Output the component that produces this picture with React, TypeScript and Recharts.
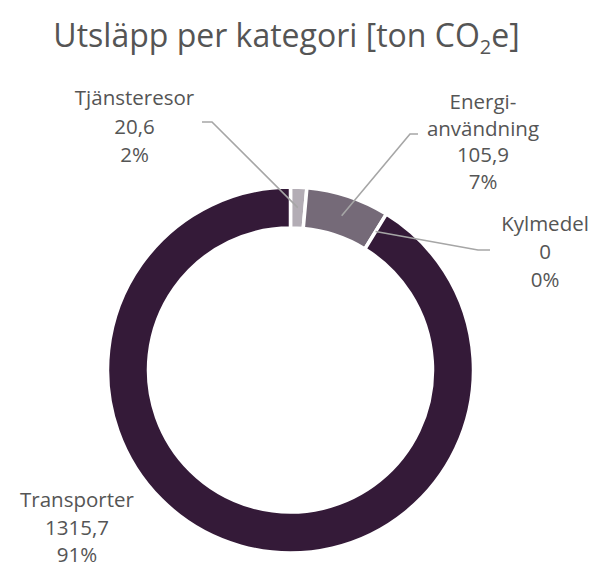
import { PieChart, Pie, Cell } from 'recharts'

const categories = ['Tjänsteresor', 'Energianvändning', 'Kylmedel', 'Transporter']
const labelLines = [['Tjänsteresor'], ['Energi-', 'användning'], ['Kylmedel'], ['Transporter']]
const values = [20.6, 105.9, 0, 1315.7]
const percentLabels = ['2%', '7%', '0%', '91%']
const colors = ['#b3adb5', '#756a78', '#341a38', '#341a38']

const data = categories.map((name, i) => ({ name, value: values[i] }))

// label placement relative to the pie centre (text centre x, first baseline y, line step)
const labelLayout = [
  { dx: -156, dy: -265, step: 28.5, leader: [[-78.5, -248], [-88.5, -248]] },
  { dx: 192.5, dy: -261, step: 26.5, leader: [[119.5, -236], [127.5, -236]] },
  { dx: 254.5, dy: -139, step: 28, leader: [[187.5, -120], [199.5, -120]] },
  { dx: -213.5, dy: 137, step: 27.5, leader: null },
]

const RAD = Math.PI / 180
const FONT = '"Open Sans", sans-serif'
const TEXT = '#555555'

const fmt = (v: number) => String(v).replace('.', ',')

const renderLabel = (props: any) => {
  const { cx, cy, midAngle, innerRadius, outerRadius, index, value } = props
  const lay = labelLayout[index]
  const lines = [...labelLines[index], fmt(value), percentLabels[index]]
  let leader = null
  if (lay.leader) {
    const r = (innerRadius + outerRadius) / 2
    const sx = cx + r * Math.cos(-midAngle * RAD)
    const sy = cy + r * Math.sin(-midAngle * RAD)
    const pts = [[sx, sy], ...lay.leader.map(([x, y]) => [cx + x, cy + y])]
    leader = (
      <polyline
        points={pts.map((p) => p.join(',')).join(' ')}
        fill="none"
        stroke="#a6a6a6"
        strokeWidth={1.6}
      />
    )
  }
  return (
    <g key={`lbl-${index}`}>
      {leader}
      <text textAnchor="middle" fontFamily={FONT} fontSize={20.5} fill={TEXT}>
        {lines.map((t, k) => (
          <tspan key={k} x={cx + lay.dx} y={cy + lay.dy + k * lay.step}>
            {t}
          </tspan>
        ))}
      </text>
    </g>
  )
}

export default function App() {
  return (
    <div style={{ position: 'absolute', left: 0, top: 0, width: 592, height: 567, background: '#fff' }}>
      <PieChart width={592} height={567} margin={{ top: 0, right: 0, bottom: 0, left: 0 }}>
        <text x={286.5} y={47} textAnchor="middle" fontFamily={FONT} fontSize={32} fill={TEXT}>
          Utsläpp per kategori [ton CO
          <tspan fontSize={20} dy={7}>2</tspan>
          <tspan dy={-7}>e]</tspan>
        </text>
        <Pie
          data={data}
          dataKey="value"
          nameKey="name"
          cx={290.5}
          cy={370}
          innerRadius={142}
          outerRadius={183}
          startAngle={90}
          endAngle={-270}
          stroke="#ffffff"
          strokeWidth={3.5}
          label={renderLabel}
          labelLine={false}
          isAnimationActive={false}
        >
          {data.map((d, i) => (
            <Cell key={d.name} fill={colors[i]} />
          ))}
        </Pie>
      </PieChart>
    </div>
  )
}
